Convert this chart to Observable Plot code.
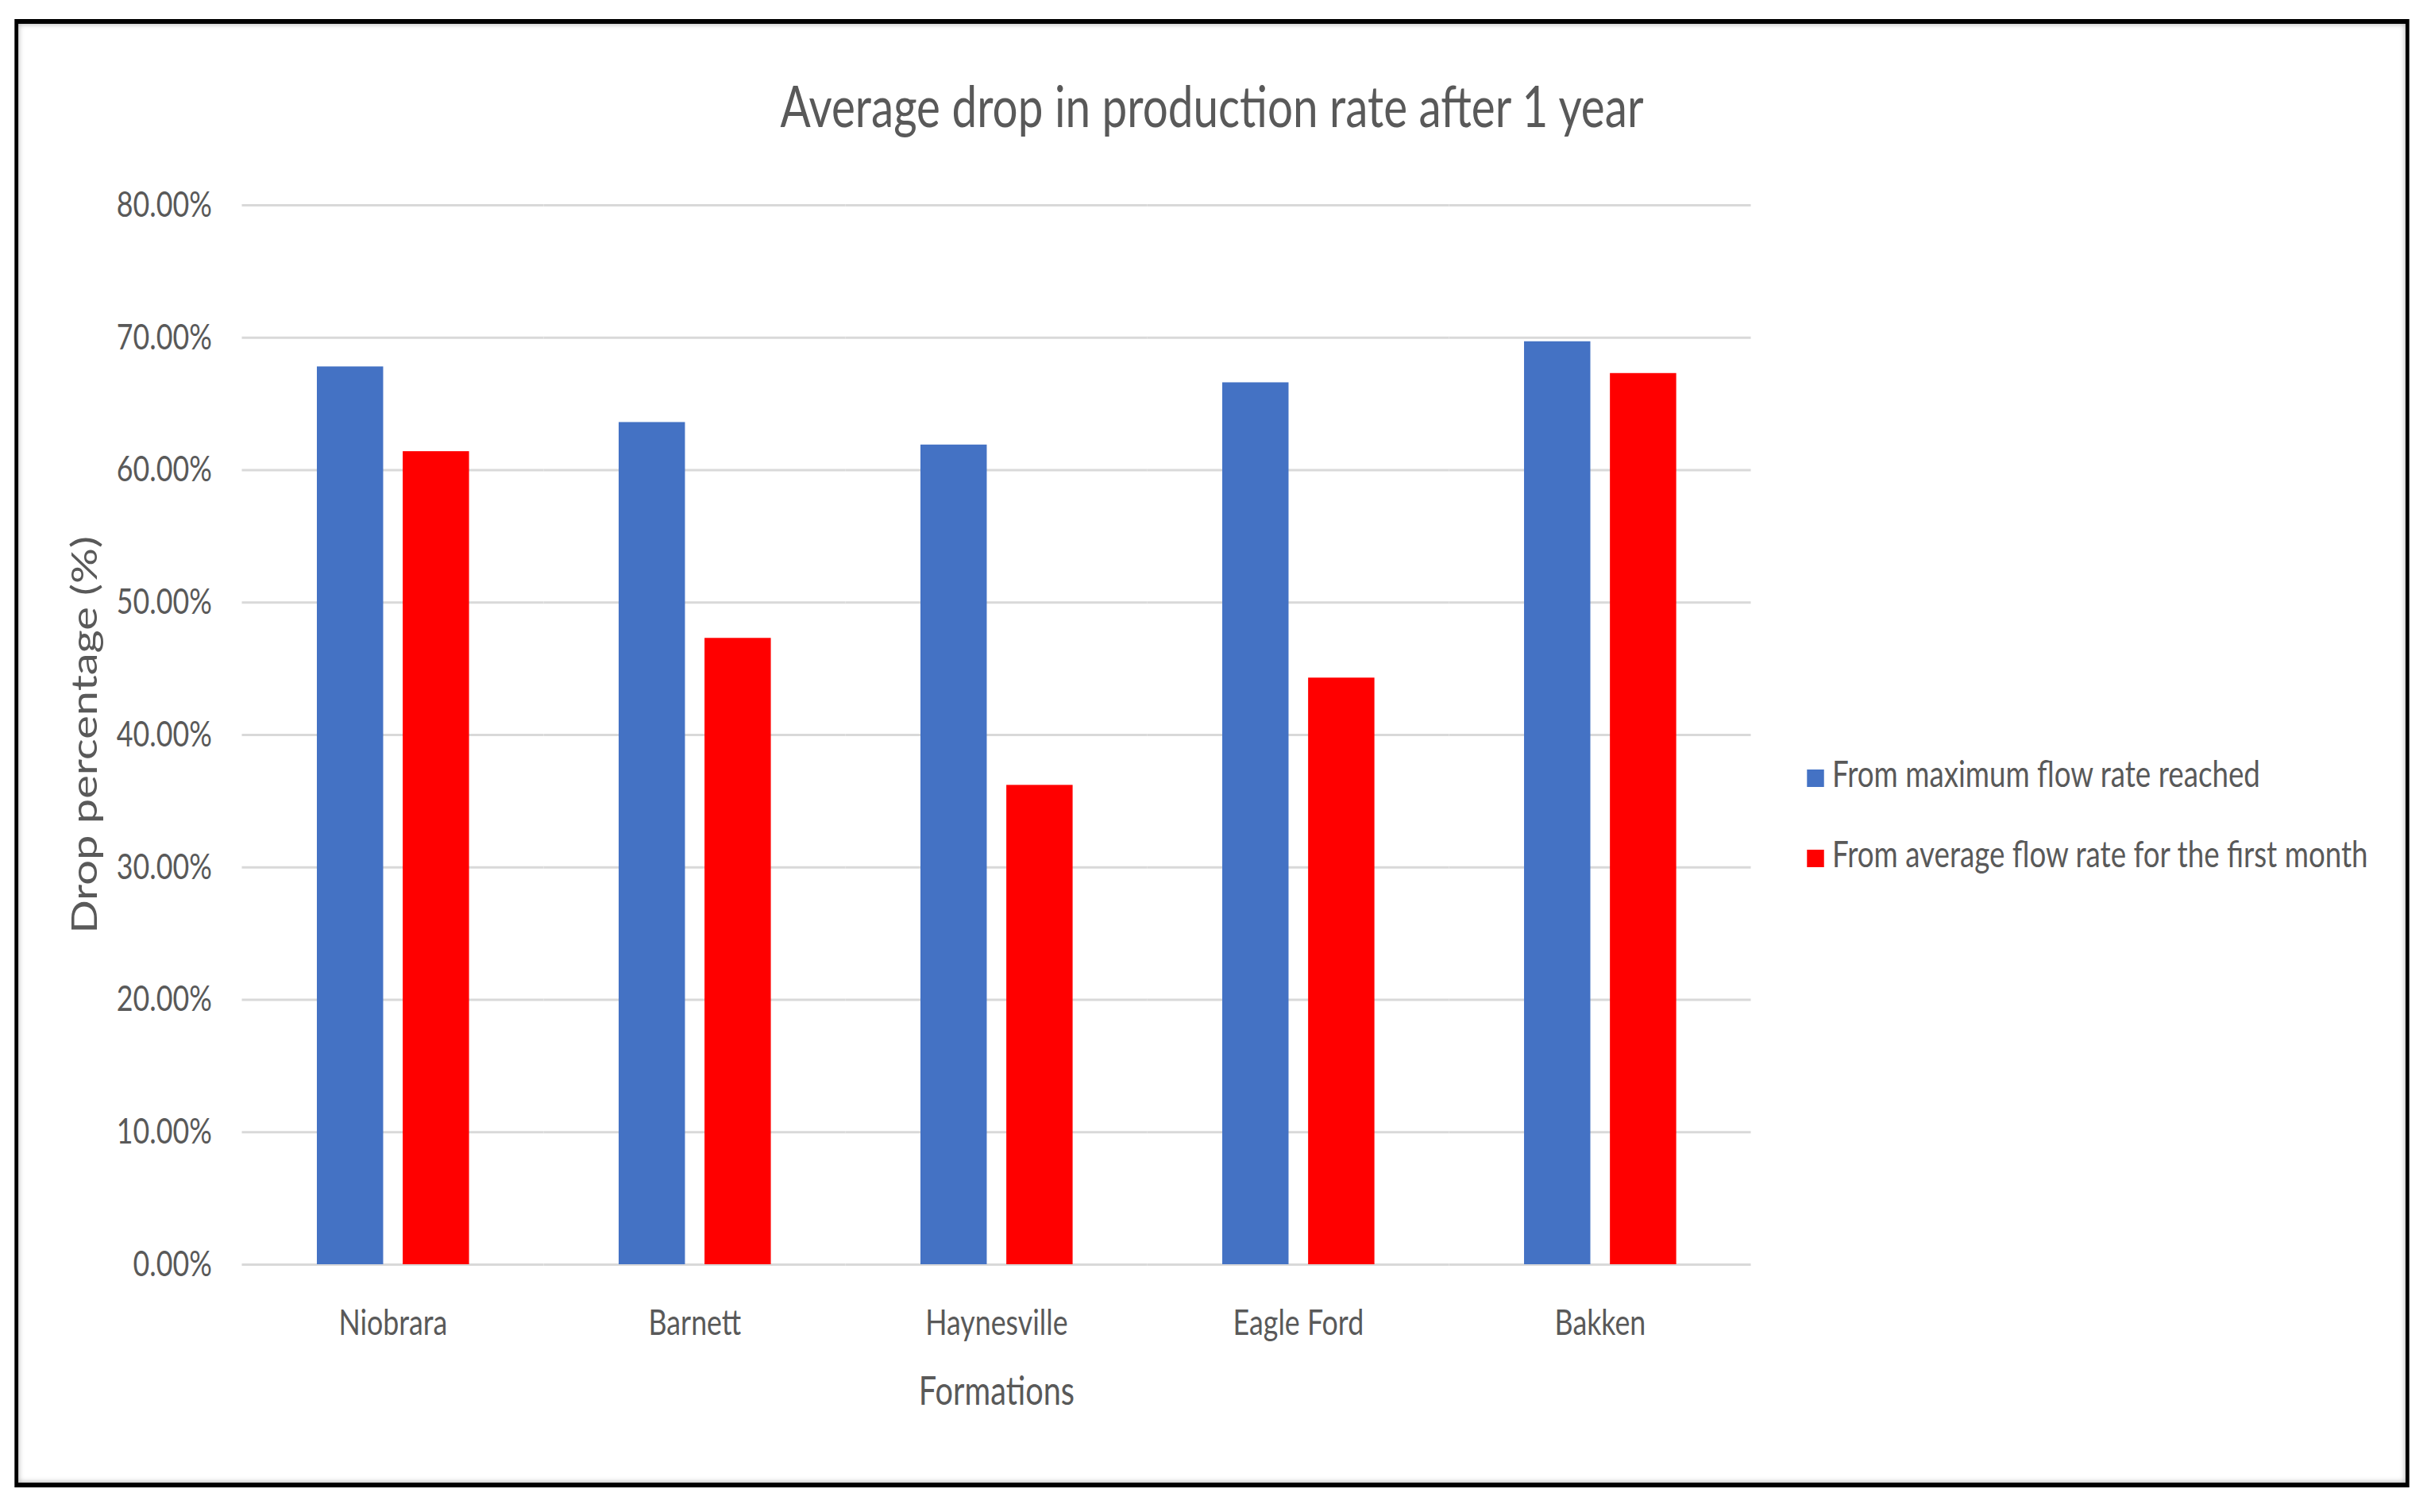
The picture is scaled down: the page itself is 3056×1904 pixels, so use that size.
<!DOCTYPE html>
<html>
<head>
<meta charset="utf-8">
<script src="https://cdn.jsdelivr.net/npm/d3@7"></script>
<script src="https://cdn.jsdelivr.net/npm/@observablehq/plot@0.6"></script>
<style>
  html, body { margin: 0; padding: 0; background: #fff; overflow: hidden; width: 3056px; height: 1904px; }
  #stage { position: absolute; left: 0; top: 0; height: 1904px; transform-origin: 0 0;
           font-family: Lato, "Open Sans", sans-serif; color: #595959; }
  #frame { position: absolute; box-sizing: border-box; border-style: solid; border-color: #000;
           box-shadow: inset 0 0 7px 1px rgba(0,0,0,0.28); }
  .abs { position: absolute; white-space: nowrap; }
</style>
</head>
<body>
<div id="stage"></div>
<script>
// ---- data ----
const categories = ["Niobrara", "Barnett", "Haynesville", "Eagle Ford", "Bakken"];
const seriesNames = ["From maximum flow rate reached", "From average flow rate for the first month"];
const fromMaximum = [67.8, 63.6, 61.9, 66.6, 69.7];
const fromFirstMonth = [61.4, 47.3, 36.2, 44.3, 67.3];
const yTicks = [0, 10, 20, 30, 40, 50, 60, 70, 80];
const seriesColors = ["#4472C4", "#FF0000"];
const titleText = "Average drop in production rate after 1 year";
const xTitle = "Formations";
const yTitle = "Drop percentage (%)";

// ---- layout (the source picture is horizontally compressed; reproduce with a global squeeze) ----
const K = 0.795;
const W = 3056, H = 1904;
const X = v => v / K;
const stage = document.getElementById("stage");
stage.style.width = X(W) + "px";
stage.style.transform = `scaleX(${K})`;

// frame
const frame = document.createElement("div");
frame.id = "frame";
Object.assign(frame.style, {
  left: X(18) + "px", top: "24px", width: X(3034 - 18) + "px", height: (1873 - 24) + "px",
  borderWidth: `6px ${X(5)}px`
});
stage.appendChild(frame);

// title
const titleFs = 71.2;
const title = document.createElement("div");
title.className = "abs";
title.textContent = titleText;
Object.assign(title.style, {
  left: (X(1526) - 2000) + "px", width: "4000px", textAlign: "center",
  fontSize: titleFs + "px", lineHeight: "1.2", top: (160 - 0.987 * titleFs) + "px"
});
stage.appendChild(title);

// data table for the library
const data = categories.flatMap((c, i) => [
  {formation: c, series: seriesNames[0], value: fromMaximum[i]},
  {formation: c, series: seriesNames[1], value: fromFirstMonth[i]}
]);

const svgTop = 200, svgH = 1630;
const y0 = 1592, y80 = 258;
const axisTitleFs = 56;
const tickFs = 45;

const chart = Plot.plot({
  width: Math.round(X(W)),
  height: svgH,
  marginTop: y80 - svgTop,
  marginBottom: svgTop + svgH - y0,
  marginLeft: X(303),
  marginRight: Math.round(X(W)) - X(2206),
  style: {fontFamily: "Lato, 'Open Sans', sans-serif", fontSize: tickFs + "px", color: "#595959", background: "transparent", overflow: "visible"},
  fx: {domain: categories, padding: 0, axis: "bottom", label: xTitle, labelAnchor: "center", labelOffset: 176, tickSize: 0, tickPadding: 57},
  x: {domain: seriesNames, axis: null, paddingInner: 0.229, paddingOuter: 0.86},
  y: {domain: [0, 80], ticks: yTicks, tickFormat: d => d.toFixed(2) + "%", tickSize: 0, tickPadding: X(38),
      label: yTitle, labelAnchor: "center", labelArrow: "none", labelOffset: X(303) - (X(120) - 0.71 * axisTitleFs)},
  color: {domain: seriesNames, range: seriesColors},
  marks: [
    Plot.gridY(yTicks, {stroke: "#D9D9D9", strokeOpacity: 1, strokeWidth: 3}),
    Plot.barY(data, {fx: "formation", x: "series", y: "value", fill: "series"})
  ]
});
chart.querySelectorAll('g[aria-label$="axis label"]').forEach(g => { g.style.fontSize = axisTitleFs + "px"; });
chart.querySelectorAll('g[aria-label="fx-axis label"]').forEach(g => { g.style.fontSize = "50px"; });

const holder = document.createElement("div");
holder.className = "abs";
Object.assign(holder.style, {left: "0px", top: svgTop + "px"});
holder.appendChild(chart);
stage.appendChild(holder);

// legend (right side)
const color = chart.scale("color");
const legendFs = 46.2;
const legendBaselines = [992, 1093];
seriesNames.forEach((name, i) => {
  const row = document.createElement("div");
  row.className = "abs";
  Object.assign(row.style, {
    left: X(2275) + "px", top: (legendBaselines[i] - 0.987 * legendFs) + "px",
    fontSize: legendFs + "px", lineHeight: "1.2"
  });
  const sw = document.createElement("span");
  Object.assign(sw.style, {display: "inline-block", width: X(22) + "px", height: "22px",
    background: color.apply(name), marginRight: X(10) + "px"});
  row.appendChild(sw);
  row.appendChild(document.createTextNode(name));
  stage.appendChild(row);
});
</script>
</body>
</html>
